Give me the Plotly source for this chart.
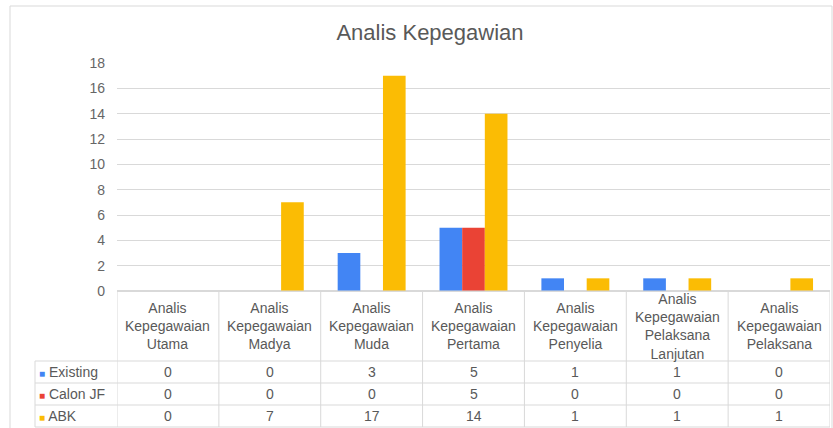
import plotly.graph_objects as go

# ---------------- data ----------------
categories = [
    "Analis Kepegawaian Utama",
    "Analis Kepegawaian Madya",
    "Analis Kepegawaian Muda",
    "Analis Kepegawaian Pertama",
    "Analis Kepegawaian Penyelia",
    "Analis Kepegawaian Pelaksana Lanjutan",
    "Analis Kepegawaian Pelaksana",
]
existing = [0, 0, 3, 5, 1, 1, 0]
calon_jf = [0, 0, 0, 5, 0, 0, 0]
abk = [0, 7, 17, 14, 1, 1, 1]
series_names = ["Existing", "Calon JF", "ABK"]
series_colors = ["#4285F4", "#EA4335", "#FBBC04"]
y_ticks = [0, 2, 4, 6, 8, 10, 12, 14, 16, 18]
title_text = "Analis Kepegawian"

# ---------------- layout geometry ----------------
W, H = 833, 428
L, R, T, B = 117, 3, 63, 137
PB = H - B          # plot bottom in px
PH = PB - T         # plot height
PW = W - L - R      # plot width

def py(p):
    return (PB - p) / PH

def px(p):
    return (p - L) / PW

FONT = "Liberation Sans, Arial, sans-serif"
TXT = "#595959"
LINE = "#d9d9d9"

series_values = [existing, calon_jf, abk]

fig = go.Figure()
for name, vals, col in zip(series_names, series_values, series_colors):
    fig.add_trace(go.Bar(x=categories, y=vals, name=name, marker=dict(color=col, line=dict(width=0))))

annotations = []
shapes = []

# header row (category names)
for cat in categories:
    annotations.append(dict(
        x=cat, xref="x", y=py(326), yref="paper", yanchor="middle", xanchor="center",
        text="<br>".join(cat.split()), showarrow=False, align="center",
        font=dict(family=FONT, size=14, color=TXT)))

row_centers = [372, 394, 416]
for name, vals, col, yc in zip(series_names, series_values, series_colors, row_centers):
    annotations.append(dict(
        x=px(37), xref="paper", y=py(yc), yref="paper", xanchor="left", yanchor="middle",
        text=f"<span style='color:{col};font-size:10px'>■</span> {name}", showarrow=False,
        font=dict(family=FONT, size=14, color=TXT)))
    for cat, v in zip(categories, vals):
        annotations.append(dict(
            x=cat, xref="x", y=py(yc), yref="paper", xanchor="center", yanchor="middle",
            text=str(v), showarrow=False, font=dict(family=FONT, size=14, color=TXT)))

# table lines
shapes.append(dict(type="line", xref="paper", yref="paper", x0=0, x1=1, y0=py(291), y1=py(291),
                   line=dict(color=LINE, width=1)))
for yl in [361, 383, 405, 427]:
    shapes.append(dict(type="line", xref="paper", yref="paper", x0=px(35), x1=1, y0=py(yl), y1=py(yl),
                       line=dict(color=LINE, width=1)))
for i in range(len(categories) + 1):
    shapes.append(dict(type="line", xref="x", yref="paper", x0=i - 0.5, x1=i - 0.5, y0=py(291), y1=py(427),
                       line=dict(color=LINE, width=1)))
shapes.append(dict(type="line", xref="paper", yref="paper", x0=px(35), x1=px(35), y0=py(361), y1=py(427),
                   line=dict(color=LINE, width=1)))
# outer chart border
shapes.append(dict(type="rect", xref="paper", yref="paper", x0=px(10), x1=px(832), y0=py(6), y1=py(445),
                   line=dict(color=LINE, width=1), fillcolor="rgba(0,0,0,0)", layer="below"))

fig.update_layout(
    width=W, height=H,
    margin=dict(l=L, r=R, t=T, b=B, pad=0),
    paper_bgcolor="white", plot_bgcolor="white",
    barmode="group", bargap=0.333, bargroupgap=0,
    showlegend=False,
    title=dict(text=title_text, x=430 / W, xanchor="center", y=1 - 32 / H, yanchor="middle",
               font=dict(family=FONT, size=22, color=TXT)),
    xaxis=dict(range=[-0.5, len(categories) - 0.5], showticklabels=False, showgrid=False,
               zeroline=False, showline=False, ticks=""),
    yaxis=dict(range=[0, 18], tickvals=y_ticks, showgrid=True, gridcolor=LINE, gridwidth=1,
               zeroline=True, zerolinecolor=LINE, showline=False, ticks="",
               ticklabelstandoff=11,
               tickfont=dict(family=FONT, size=14, color="#666666")),
    annotations=annotations,
    shapes=shapes,
)

fig.write_html("out.html",
               config={"displayModeBar": False},
               post_script="document.body.style.margin='0px';document.body.style.overflow='hidden';")
